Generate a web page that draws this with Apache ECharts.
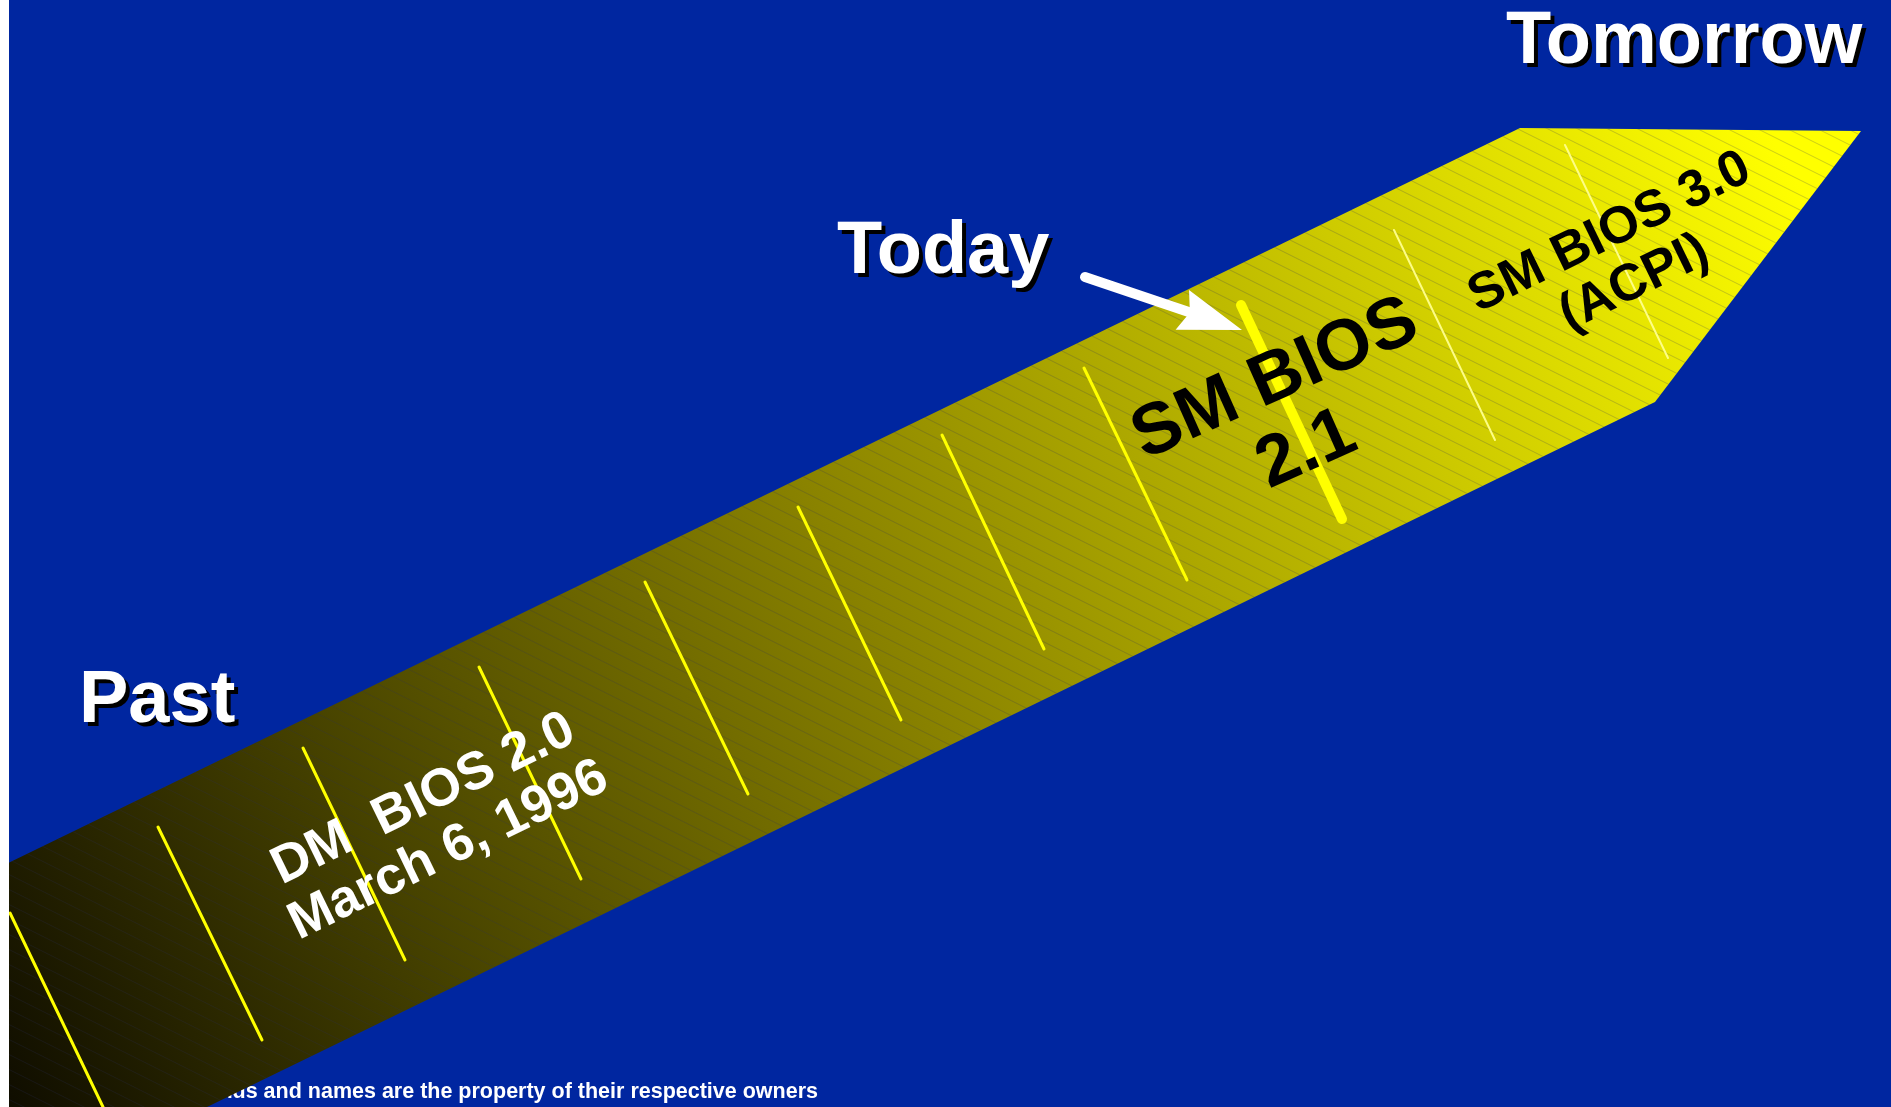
<!DOCTYPE html>
<html>
<head>
<meta charset="utf-8">
<script src="https://cdn.jsdelivr.net/npm/echarts@6/dist/echarts.min.js"></script>
<style>
  html, body { margin: 0; padding: 0; background: #ffffff; }
  #chart { width: 1891px; height: 1107px; }
</style>
</head>
<body>
<div id="chart"></div>
<script>
const W = 1891;
const H = 1107;

// timeline band outline (pixel space of the slide)
const bandOutline = [[0, 867], [1520, 128], [1861, 131], [1655, 402], [207, 1107], [0, 1107]];

// yellow tick marks across the band
const tickStart = [[10, 913], [158, 827], [303, 748], [479, 667], [645, 582], [798, 507],
  [942, 435], [1084, 368], [1241, 305], [1394, 230], [1565, 145]];
const tickEnd = [[103, 1107], [262, 1040], [405, 960], [581, 879], [748, 794], [901, 720],
  [1044, 649], [1187, 580], [1342, 519], [1495, 440], [1668, 358]];
const todayTick = 8;
const faintTicks = [9, 10];

// "Today" pointer: tail, tip
const todayArrow = [[1085, 277, 1242, 330]];

const cornerLabels = ["Past", "Today", "Tomorrow"];
const stageLabels = ["DM  BIOS 2.0\nMarch 6, 1996", "SM BIOS\n2.1", "SM BIOS 3.0\n(ACPI)"];
const footnote = "*Other brands and names are the property of their respective owners";

const FONT = '"Liberation Sans", Arial, sans-serif';
const deg = Math.PI / 180;

function hatchTile() {
  const c = document.createElement("canvas");
  c.width = 30;
  c.height = 15;
  const ctx = c.getContext("2d");
  ctx.strokeStyle = "rgba(40,45,90,0.24)";
  ctx.lineWidth = 1;
  ctx.beginPath();
  ctx.moveTo(-2, -1); ctx.lineTo(32, 16);
  ctx.moveTo(-2, 14); ctx.lineTo(2, 16);
  ctx.moveTo(28, -1); ctx.lineTo(32, 1);
  ctx.stroke();
  return c;
}
const hatch = hatchTile();

function bandPolygon(fill) {
  return function (params, api) {
    if (params.dataIndex !== 0) return;
    const points = [];
    for (let i = 0; i < bandOutline.length; i++) {
      points.push(api.coord([api.value(0, i), api.value(1, i)]));
    }
    return { type: "polygon", shape: { points }, style: { fill: fill(api) } };
  };
}

function plainText(text, x, y, z, fill, font, align) {
  return {
    type: "text",
    x, y, z,
    style: {
      text, fill, font,
      align: align, textAlign: align,
      verticalAlign: "middle", textVerticalAlign: "middle",
    },
  };
}

// white heading with a hard black drop shadow
function bigText(text, x, y) {
  const font = "bold 74px " + FONT;
  return [
    plainText(text, x + 4, y + 4, 49, "#000000", font, "left"),
    plainText(text, x, y, 50, "#ffffff", font, "left"),
  ];
}

function tiltedText(text, x, y, angle, size, lineHeight, color) {
  return {
    type: "text",
    x, y, z: 50,
    rotation: angle * deg,
    style: {
      text,
      fill: color,
      font: "bold " + size + "px " + FONT,
      lineHeight,
      align: "center", textAlign: "center",
      verticalAlign: "middle", textVerticalAlign: "middle",
    },
  };
}

const chart = echarts.init(document.getElementById("chart"));

chart.setOption({
  animation: false,
  backgroundColor: "#0026a0",
  grid: { left: 0, right: 0, top: 0, bottom: 0 },
  xAxis: { type: "value", min: 0, max: W, show: false },
  yAxis: { type: "value", min: 0, max: H, inverse: true, show: false },
  series: [
    {
      type: "custom",
      z: 10,
      clip: false,
      silent: true,
      data: bandOutline,
      renderItem: bandPolygon((api) => {
        const a = api.coord([0, 1107]);
        const b = api.coord([1750, 100]);
        return new echarts.graphic.LinearGradient(a[0], a[1], b[0], b[1], [
          { offset: 0, color: "#0e0c00" },
          { offset: 0.5, color: "#8a8300" },
          { offset: 1, color: "#ffff00" },
        ], true);
      }),
    },
    {
      type: "custom",
      z: 11,
      clip: false,
      silent: true,
      data: bandOutline,
      renderItem: bandPolygon(() => ({ image: hatch, repeat: "repeat" })),
    },
    {
      type: "custom",
      z: 12,
      clip: false,
      silent: true,
      data: tickStart.map((s, i) => [s[0], s[1], tickEnd[i][0], tickEnd[i][1]]),
      renderItem: (params, api) => {
        const p1 = api.coord([api.value(0), api.value(1)]);
        const p2 = api.coord([api.value(2), api.value(3)]);
        const i = params.dataIndex;
        let stroke = "#ffff00", width = 3;
        if (i === todayTick) width = 10;
        if (faintTicks.includes(i)) { stroke = "rgba(255,255,140,0.95)"; width = 2; }
        return {
          type: "line",
          shape: { x1: p1[0], y1: p1[1], x2: p2[0], y2: p2[1] },
          style: { stroke, lineWidth: width, lineCap: "round" },
        };
      },
    },
    {
      type: "custom",
      z: 13,
      clip: false,
      silent: true,
      data: todayArrow,
      renderItem: (params, api) => {
        const t = api.coord([api.value(0), api.value(1)]);
        const p = api.coord([api.value(2), api.value(3)]);
        const dx = p[0] - t[0], dy = p[1] - t[1];
        const len = Math.hypot(dx, dy);
        const ux = dx / len, uy = dy / len;
        const headLen = 63, half = 21;
        const bx = p[0] - ux * headLen, by = p[1] - uy * headLen;
        return {
          type: "group",
          children: [
            {
              type: "line",
              shape: { x1: t[0], y1: t[1], x2: bx + ux * 6, y2: by + uy * 6 },
              style: { stroke: "#ffffff", lineWidth: 10, lineCap: "round" },
            },
            {
              type: "polygon",
              shape: { points: [p, [bx - uy * half, by + ux * half], [bx + ux * 8, by + uy * 8], [bx + uy * half, by - ux * half]] },
              style: { fill: "#ffffff" },
            },
          ],
        };
      },
    },
  ],
  graphic: {
    elements: [
      plainText(footnote, 818, 1092, 1, "#ffffff", "bold 21.5px " + FONT, "right"),
      ...bigText(cornerLabels[0], 79, 702),
      ...bigText(cornerLabels[1], 837, 253),
      ...bigText(cornerLabels[2], 1506, 43),
      tiltedText(stageLabels[0], 436, 825, 26, 53, 57, "#ffffff"),
      tiltedText(stageLabels[1], 1291, 415, 24, 72, 77, "#000000"),
      tiltedText(stageLabels[2], 1622, 258, 26, 52, 56, "#000000"),
      {
        type: "rect",
        z: 100,
        shape: { x: 0, y: 0, width: 9, height: H },
        style: { fill: "#ffffff" },
      },
    ],
  },
});
</script>
</body>
</html>
